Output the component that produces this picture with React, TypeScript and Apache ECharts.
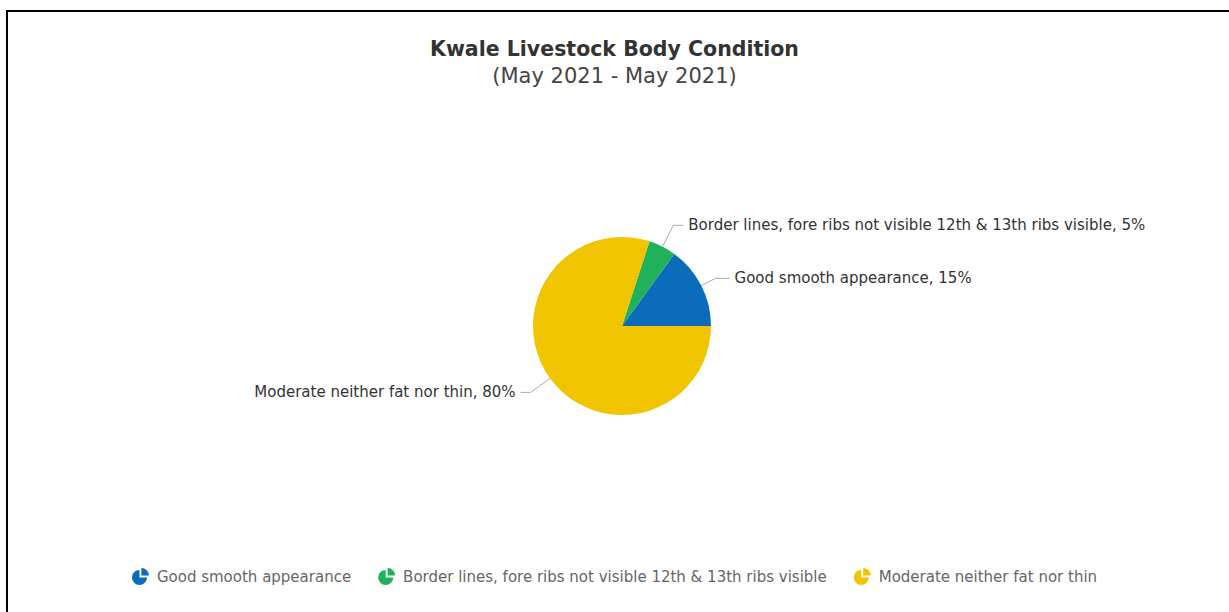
import React, { useEffect, useRef } from "react";
import * as echarts from "echarts";

const categories = [
  "Good smooth appearance",
  "Border lines, fore ribs not visible 12th & 13th ribs visible",
  "Moderate neither fat nor thin",
];
const values = [15, 5, 80];
const colors = ["#0b6cbc", "#20b25b", "#f1c400"];
const lineLengths = [[16, 14], [24, 10], [24, 10]];

const pieIcon =
  "path://M7,9 L7,1 A8,8 0 1,0 15,9 Z M9,7 L9,-1 A8,8 0 0,1 17,7 Z";

const FONT = "DejaVu Sans, sans-serif";

export default function App() {
  const ref = useRef<HTMLDivElement>(null);
  useEffect(() => {
    if (!ref.current) return;
    const chart = echarts.init(ref.current, undefined, { renderer: "svg" });
    chart.setOption({
      animation: false,
      backgroundColor: "#ffffff",
      title: {
        text: "Kwale Livestock Body Condition",
        subtext: "(May 2021 - May 2021)",
        left: "center",
        top: 33,
        itemGap: 6,
        textStyle: {
          fontFamily: FONT,
          fontSize: 20.5,
          fontWeight: "bold",
          color: "#333333",
        },
        subtextStyle: {
          fontFamily: FONT,
          fontSize: 21,
          color: "#444444",
        },
      },
      legend: {
        bottom: 22,
        left: "center",
        icon: pieIcon,
        itemWidth: 17,
        itemHeight: 17,
        itemGap: 27,
        textStyle: {
          fontFamily: FONT,
          fontSize: 15,
          color: "#666666",
          padding: [0, 0, 0, 3],
        },
        data: categories,
      },
      graphic: [
        { type: "line", shape: { x1: 7, y1: 11, x2: 1229, y2: 11 }, style: { stroke: "#000", lineWidth: 2 } },
        { type: "line", shape: { x1: 7, y1: 10, x2: 7, y2: 612 }, style: { stroke: "#000", lineWidth: 2 } },
      ],
      series: [
        {
          type: "pie",
          center: [622, 326],
          radius: 89,
          startAngle: 0,
          clockwise: false,
          avoidLabelOverlap: false,
          label: {
            formatter: "{b}, {d}%",
            fontFamily: FONT,
            fontSize: 15,
            color: "#333333",
          },
          labelLine: { lineStyle: { color: "#aaaaaa", width: 1 } },
          itemStyle: { borderWidth: 0 },
          emphasis: { disabled: true },
          data: categories.map((name, i) => ({
            name,
            value: values[i],
            itemStyle: { color: colors[i] },
            labelLine: { length: lineLengths[i][0], length2: lineLengths[i][1] },
          })),
        },
      ],
    });
    return () => chart.dispose();
  }, []);
  return (
    <div
      ref={ref}
      style={{ position: "fixed", left: 0, top: 0, width: 1229, height: 612 }}
    />
  );
}
